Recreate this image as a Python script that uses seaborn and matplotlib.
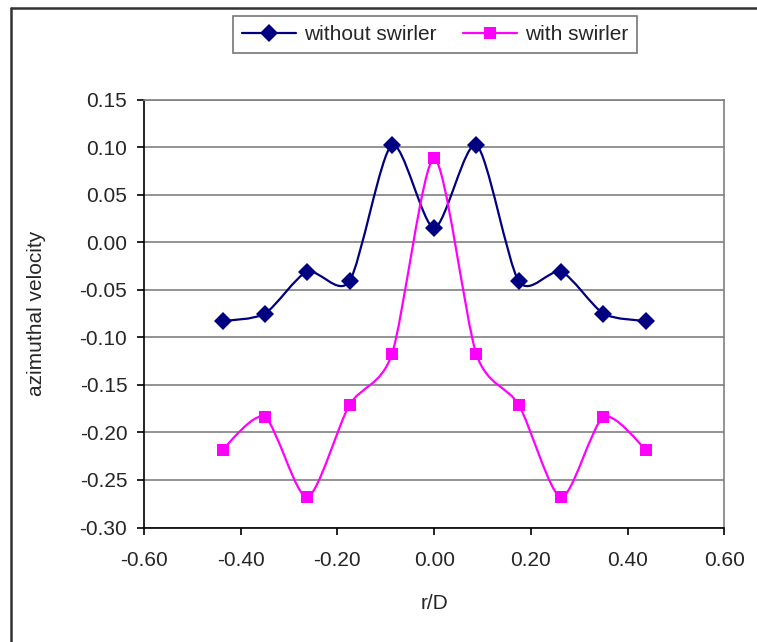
import numpy as np
import pandas as pd
import seaborn as sns
import matplotlib.pyplot as plt
from matplotlib.path import Path
from matplotlib.patches import PathPatch
from matplotlib.lines import Line2D

# данные
r_d = [-0.4375, -0.35, -0.2625, -0.175, -0.0875, 0.0, 0.0875, 0.175, 0.2625, 0.35, 0.4375]
without_swirler = [-0.083, -0.075, -0.031, -0.041, 0.102, 0.015, 0.102, -0.041, -0.031, -0.075, -0.083]
with_swirler = [-0.218, -0.184, -0.268, -0.171, -0.118, 0.088, -0.118, -0.171, -0.268, -0.184, -0.218]
y_ticks = [0.15, 0.10, 0.05, 0.00, -0.05, -0.10, -0.15, -0.20, -0.25, -0.30]
x_ticks = [-0.60, -0.40, -0.20, 0.00, 0.20, 0.40, 0.60]

sns.set_style("white")
plt.rcParams['font.family'] = ['Liberation Sans', 'DejaVu Sans']
plt.rcParams['axes.unicode_minus'] = False
FS = 15

df = pd.DataFrame({
    "r/D": r_d * 2,
    "v": without_swirler + with_swirler,
    "series": ["without swirler"] * len(r_d) + ["with swirler"] * len(r_d),
})
colors = {"without swirler": "#000080", "with swirler": "#FF00FF"}
markers = {"without swirler": "D", "with swirler": "s"}

fig = plt.figure(figsize=(7.57, 6.42), dpi=100)
ax = fig.add_axes([144 / 757, 1 - 527.5 / 642, (724.3 - 144) / 757, (527.5 - 99.5) / 642])


def smooth_path(x, y, k=0.13):
    # сглаживание как в Excel (кривые Безье)
    pts = np.column_stack([x, y])
    n = len(pts)
    verts = [pts[0]]
    codes = [Path.MOVETO]
    for i in range(n - 1):
        p0 = pts[max(i - 1, 0)]
        p1 = pts[i]
        p2 = pts[i + 1]
        p3 = pts[min(i + 2, n - 1)]
        c1 = p1 + (p2 - p0) * k
        c2 = p2 - (p3 - p1) * k
        verts += [c1, c2, p2]
        codes += [Path.CURVE4] * 3
    return Path(verts, codes)


for name, vals in [("without swirler", without_swirler), ("with swirler", with_swirler)]:
    ax.add_patch(PathPatch(smooth_path(r_d, vals), fc="none", ec=colors[name], lw=1.6, zorder=3))

sns.lineplot(data=df, x="r/D", y="v", hue="series", style="series",
             palette=colors, markers=markers, dashes=False, linewidth=0,
             markersize=9, markeredgewidth=0, legend=False, ax=ax, zorder=4)
for ln in ax.lines:
    ln.set_markersize(8.5 if ln.get_marker() == "s" else 9)

ax.set_xlim(-0.6, 0.6)
ax.set_ylim(-0.3, 0.15)
ax.set_xticks(x_ticks)
ax.set_xticklabels([f"{v:.2f}" for v in x_ticks])
ax.set_yticks(y_ticks)
ax.set_yticklabels([f"{v:.2f}" for v in y_ticks])
ax.yaxis.grid(True, color="#808080", lw=1.2)
ax.set_axisbelow(True)
ax.tick_params(axis="both", direction="out", length=5, width=1.2, color="black",
               labelsize=FS, bottom=True, left=True)
ax.tick_params(axis="x", pad=12)
ax.tick_params(axis="y", pad=7)
for s in ["top", "right"]:
    ax.spines[s].set_color("#808080")
    ax.spines[s].set_linewidth(1.2)
for s in ["left", "bottom"]:
    ax.spines[s].set_color("black")
    ax.spines[s].set_linewidth(1.2)

ax.set_xlabel("r/D", fontsize=FS, labelpad=17)
ax.set_ylabel("azimuthal velocity", fontsize=FS, labelpad=24)

handles = [Line2D([], [], color=colors[k], lw=1.6, marker=markers[k],
                  markersize=9 if k == "without swirler" else 8.5, markeredgewidth=0)
           for k in ["without swirler", "with swirler"]]
leg = fig.legend(handles, ["without swirler", "with swirler"], ncol=2, loc="center",
                 bbox_to_anchor=(435 / 757, 1 - 34.5 / 642), bbox_transform=fig.transFigure,
                 fontsize=FS, frameon=True, fancybox=False, edgecolor="#555555",
                 handlelength=2.6, columnspacing=1.3, handletextpad=0.35, borderpad=0.45)
leg.get_frame().set_linewidth(1.2)

# рамка области диаграммы
fig.add_artist(Line2D([11 / 757, 1], [1 - 7.5 / 642, 1 - 7.5 / 642], transform=fig.transFigure,
                      color="#333333", lw=1.8))
fig.add_artist(Line2D([11 / 757, 11 / 757], [0, 1 - 7.5 / 642], transform=fig.transFigure,
                      color="#333333", lw=1.8))

fig.savefig("out.png", dpi=100)
